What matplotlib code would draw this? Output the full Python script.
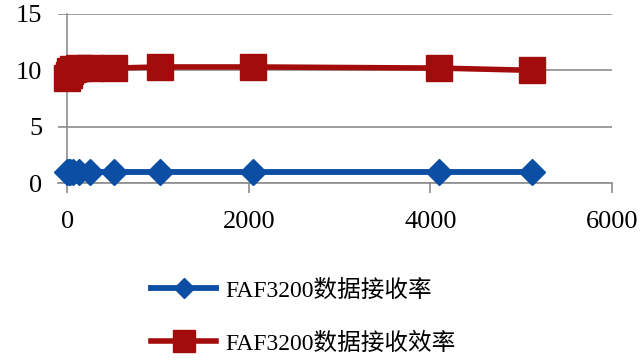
import matplotlib
matplotlib.use("Agg")
import matplotlib.pyplot as plt

# --- DATA ---
packet_sizes = [1, 16, 32, 64, 128, 256, 512, 1024, 2048, 4096, 5120]
receive_rate = [1, 1, 1, 1, 1, 1, 1, 1, 1, 1, 1]
receive_eff = [9.3, 9.6, 9.9, 10.1, 10.2, 10.2, 10.2, 10.3, 10.3, 10.2, 10.0]
labels = ["FAF3200数据接收率", "FAF3200数据接收效率"]
x_ticks = [0, 2000, 4000, 6000]
y_ticks = [0, 5, 10, 15]

BLUE = "#0b4ea4"
RED = "#a30c0c"
GRID = "#8c8c8c"
FONT = ["Liberation Serif", "Noto Sans CJK SC"]

plt.rcParams["font.family"] = FONT

fig = plt.figure(figsize=(6.42, 3.64), dpi=100)
ax = fig.add_axes([58 / 642, 1 - 183 / 364, (612 - 58) / 642, (183 - 14) / 364])

l1, = ax.plot(packet_sizes, receive_rate, color=BLUE, lw=4.2, marker="D",
              ms=13, mec=BLUE, mfc=BLUE, clip_on=False, zorder=3)
l2, = ax.plot(packet_sizes, receive_eff, color=RED, lw=4, marker="s",
              ms=19, mec=RED, mfc=RED, clip_on=False, zorder=3)

ax.set_xlim(-100, 6000)
ax.set_ylim(0, 15)
ax.set_xticks(x_ticks)
ax.set_yticks(y_ticks)
ax.yaxis.grid(True, color=GRID, lw=1.2)
ax.set_axisbelow(True)

for s in ["top", "right"]:
    ax.spines[s].set_visible(False)
ax.spines["left"].set_position(("data", 0))
ax.spines["left"].set_color(GRID)
ax.spines["bottom"].set_color(GRID)
ax.spines["left"].set_linewidth(1.2)
ax.spines["bottom"].set_linewidth(1.2)

ax.tick_params(axis="x", direction="out", length=7, width=1.2, color=GRID,
               labelsize=19, pad=13)
ax.tick_params(axis="y", length=0, labelsize=19, pad=18)

fig.legend([l1, l2], labels, loc="upper left", bbox_to_anchor=(142 / 642, 1 - 270 / 364),
           frameon=False, fontsize=17, handlelength=2.75, labelspacing=1.3,
           handletextpad=0.4, markerscale=0.8, borderaxespad=0)

fig.savefig("out.png", dpi=100)
